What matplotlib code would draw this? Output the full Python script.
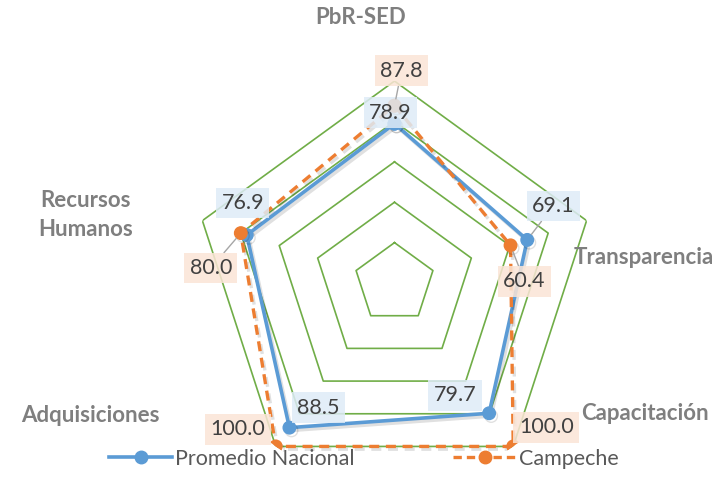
import numpy as np
import matplotlib
matplotlib.use('Agg')
import matplotlib.pyplot as plt
import matplotlib.patheffects as pe
from matplotlib.lines import Line2D

plt.rcParams['font.family'] = ['Lato', 'DejaVu Sans']

# Data
categories = ['PbR-SED', 'Transparencia', 'Capacitación', 'Adquisiciones', 'Recursos\nHumanos']
promedio_nacional = [78.9, 69.1, 79.7, 88.5, 76.9]
campeche = [87.8, 60.4, 100.0, 100.0, 80.0]
grid_levels = [20, 40, 60, 80, 100]

# label offsets in pixels (x right, y up) from each marker
prom_offsets = [(-4, 11), (26, 34), (-34, 18), (29, 20), (-4, 32)]
camp_offsets = [(7, 35), (14, -36), (33, 19), (-38, 17), (-30, -35)]
prom_leader = [False, True, False, False, False]
camp_leader = [True, True, False, False, True]

blue = '#5B9BD5'
orange = '#ED7D31'
green = '#70AD47'
txt = '#404040'

n = len(categories)
# clockwise from the top
angles = np.pi / 2 - np.arange(n) * 2 * np.pi / n
closed = np.append(angles, angles[0])

fig = plt.figure(figsize=(7.21, 4.99), dpi=100)
ax = fig.add_axes([0.267, 0.028, 0.5603, 0.8096], projection='polar')
ax.set_ylim(0, 100)
ax.set_axis_off()

for lvl in grid_levels:
    ax.plot(closed, [lvl] * (n + 1), color=green, lw=1.2, zorder=1)

shadow = [pe.SimpleLineShadow(offset=(1.5, -2), alpha=0.12, shadow_color='black'), pe.Normal()]

ax.plot(closed, promedio_nacional + promedio_nacional[:1], color=blue, lw=2.6,
        marker='o', markersize=9, zorder=3, path_effects=shadow)
ax.plot(closed, campeche + campeche[:1], color=orange, lw=2.4, ls=(0, (3, 2)),
        marker='o', markersize=9, zorder=4, path_effects=shadow)


def add_labels(values, offsets, leaders, fc):
    for a, v, off, lead in zip(angles, values, offsets, leaders):
        ap = dict(arrowstyle='-', color='#A6A6A6', lw=1, shrinkA=0, shrinkB=5) if lead else None
        ax.annotate(f'{v:.1f}', xy=(a, v), xytext=off, textcoords='offset pixels',
                    ha='center', va='center', fontsize=15.5, color=txt, zorder=6,
                    bbox=dict(boxstyle='square,pad=0.25', fc=fc, ec='none', alpha=0.85),
                    arrowprops=ap, annotation_clip=False)


add_labels(promedio_nacional, prom_offsets, prom_leader, '#DEEBF7')
add_labels(campeche, camp_offsets, camp_leader, '#FBE5D6')

# category labels (figure pixel positions)
cat_pos = [(361, 17), (644, 258), (645, 413), (90, 415), (86, 215)]
for name, (x, y) in zip(categories, cat_pos):
    fig.text(x / 721, 1 - y / 499, name, ha='center', va='center', fontsize=16,
             fontweight='bold', color='#7F7F7F', linespacing=1.45)

handles = [Line2D([], [], color=blue, lw=2.6, marker='o', markersize=9),
           Line2D([], [], color=orange, lw=2.4, ls=(0, (2.5, 1.5)), marker='o', markersize=9)]
fig.legend(handles, ['Promedio Nacional', 'Campeche'], loc='center',
           bbox_to_anchor=(0.505, 1 - 459 / 499), ncol=2, frameon=False,
           fontsize=15.5, labelcolor='#595959', handlelength=2.9, handletextpad=0.15,
           columnspacing=4.6)

fig.savefig('out.png', dpi=100)
